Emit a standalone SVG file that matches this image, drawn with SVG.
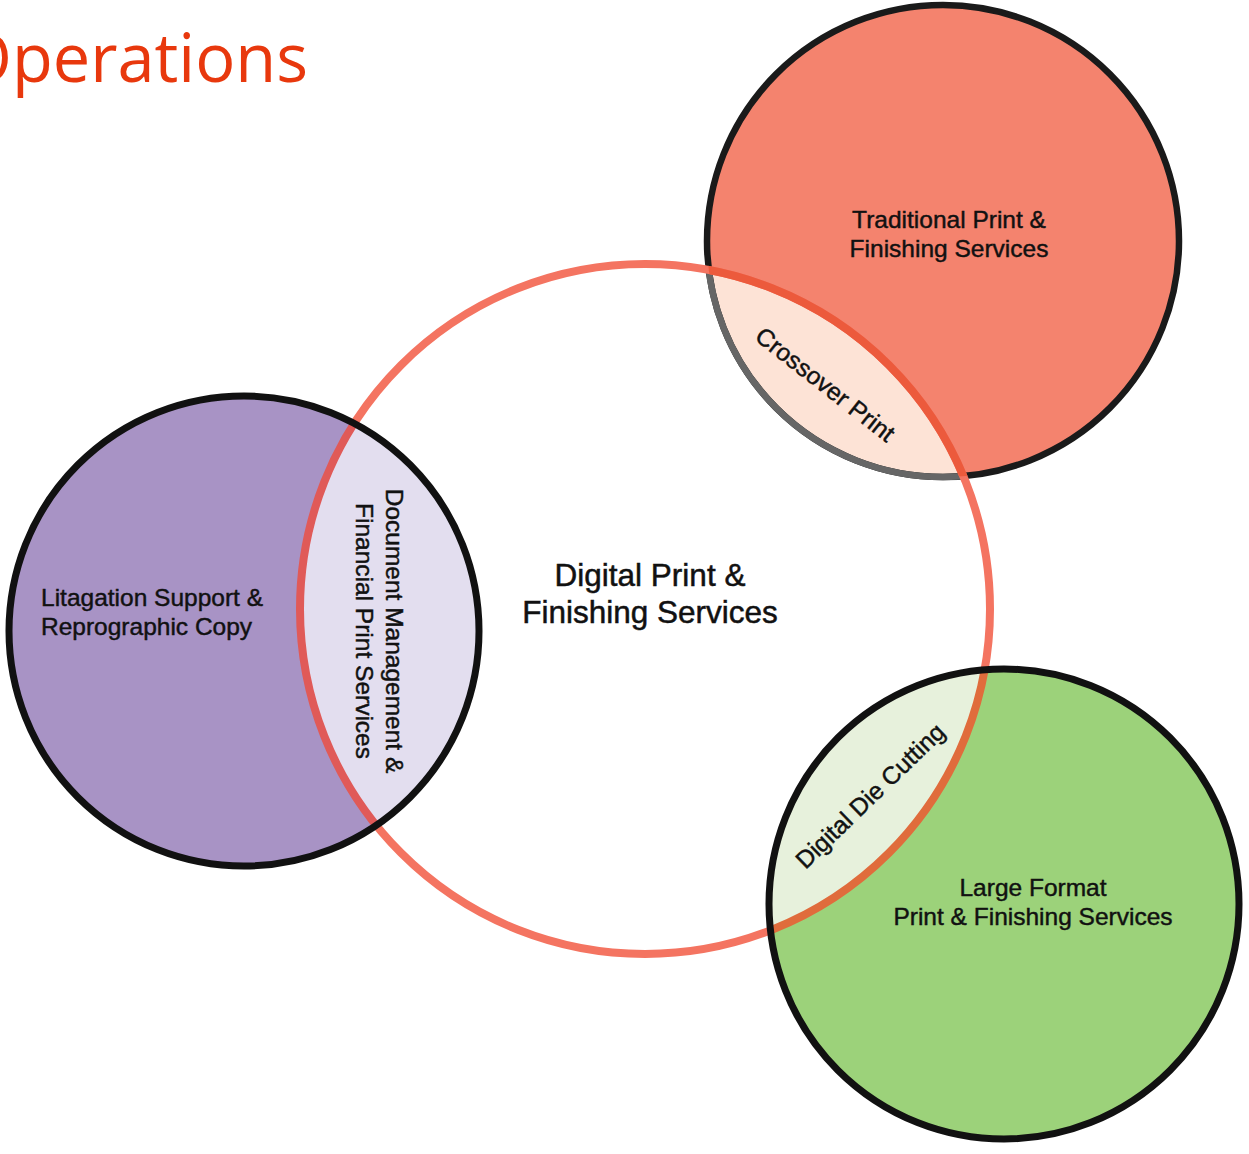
<svg xmlns="http://www.w3.org/2000/svg" width="1249" height="1154" viewBox="0 0 1249 1154">
<style>
.lbl{font-family:"Liberation Sans",Arial,Helvetica,sans-serif;font-size:24.5px;fill:#111;stroke:#111;stroke-width:0.45px;}
.big{font-family:"Liberation Sans",Arial,Helvetica,sans-serif;font-size:31.5px;fill:#111;stroke:#111;stroke-width:0.5px;}
.title{font-family:"Open Sans","Noto Sans",sans-serif;font-size:68px;fill:#e8380d;}
</style>
<defs>
<clipPath id="cTop"><circle cx="943" cy="241" r="236"/></clipPath>
<clipPath id="cLeft"><circle cx="244" cy="631" r="235"/></clipPath>
<clipPath id="cBot"><circle cx="1004" cy="904" r="235"/></clipPath>
<clipPath id="cMid"><circle cx="645" cy="609" r="345"/></clipPath>
</defs>
<rect width="1249" height="1154" fill="#fff"/>
<text class="title" x="-40" y="82" textLength="348" lengthAdjust="spacingAndGlyphs">Operations</text>

<g id="traditional">
<circle cx="943" cy="241" r="236" fill="#f4836e"/>
<circle cx="645" cy="609" r="345" fill="#fde3d6" clip-path="url(#cTop)"/>
<circle cx="943" cy="241" r="236" fill="none" stroke="#1a1a1a" stroke-width="6.5"/>
<circle cx="943" cy="241" r="236" fill="none" stroke="#666" stroke-width="6.5" clip-path="url(#cMid)"/>
</g>

<g id="digital">
<circle cx="645" cy="609" r="345" fill="none" stroke="#f47461" stroke-width="8"/>
<circle cx="645" cy="609" r="345" fill="none" stroke="#ec5a3c" stroke-width="8" clip-path="url(#cTop)"/>
</g>

<g id="litigation">
<circle cx="244" cy="631" r="235" fill="#a893c5"/>
<circle cx="645" cy="609" r="345" fill="#e3deef" clip-path="url(#cLeft)"/>
<circle cx="645" cy="609" r="345" fill="none" stroke="#e05a58" stroke-width="8" clip-path="url(#cLeft)"/>
<circle cx="244" cy="631" r="235" fill="none" stroke="#111" stroke-width="7"/>
</g>

<g id="largeformat">
<circle cx="1004" cy="904" r="235" fill="#9cd27a"/>
<circle cx="645" cy="609" r="345" fill="#e7f1dc" clip-path="url(#cBot)"/>
<circle cx="645" cy="609" r="345" fill="none" stroke="#e06c3c" stroke-width="8" clip-path="url(#cBot)"/>
<circle cx="1004" cy="904" r="235" fill="none" stroke="#111" stroke-width="7"/>
</g>

<g id="labels">
<text class="lbl" text-anchor="middle" x="949" y="228">Traditional Print &amp;</text>
<text class="lbl" text-anchor="middle" x="949" y="257">Finishing Services</text>
<text class="lbl" x="41" y="606">Litagation Support &amp;</text>
<text class="lbl" x="41" y="635">Reprographic Copy</text>
<text class="big" text-anchor="middle" x="650" y="586">Digital Print &amp;</text>
<text class="big" text-anchor="middle" x="650" y="623">Finishing Services</text>
<text class="lbl" text-anchor="middle" x="1033" y="896">Large Format</text>
<text class="lbl" text-anchor="middle" x="1033" y="925">Print &amp; Finishing Services</text>
<text class="lbl" text-anchor="middle" transform="translate(820,391) rotate(38)">Crossover Print</text>
<text class="lbl" text-anchor="middle" transform="translate(876,802) rotate(-44)">Digital Die Cutting</text>
<text class="lbl" text-anchor="middle" transform="translate(386,631) rotate(90)">Document Management &amp;</text>
<text class="lbl" text-anchor="middle" transform="translate(356,631) rotate(90)">Financial Print Services</text>
</g>
</svg>
